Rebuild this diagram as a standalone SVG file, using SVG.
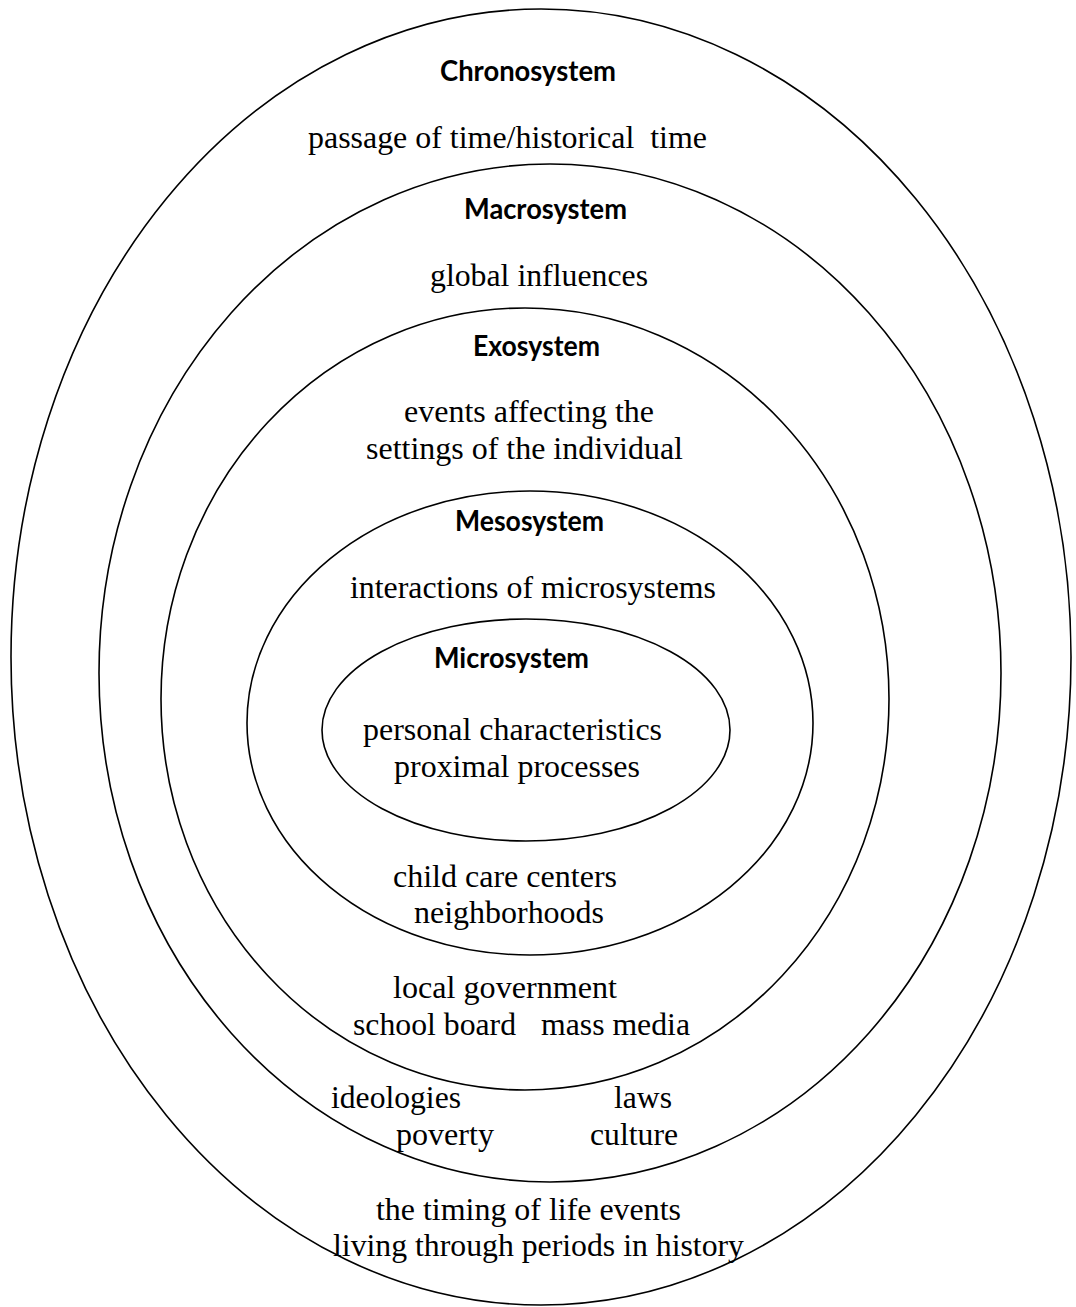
<svg xmlns="http://www.w3.org/2000/svg" width="1076" height="1307" viewBox="0 0 1076 1307">
<style>
.ring{fill:none;stroke:#000;stroke-width:1.6}
.title{font-family:"Lato","Open Sans","DejaVu Sans",sans-serif;font-weight:bold;font-size:29px;fill:#000}
.body{font-family:"Liberation Serif","Times New Roman",serif;font-size:32px;fill:#000}
</style>
<rect width="1076" height="1307" fill="#fff"/>
<g id="chronosystem">
<ellipse class="ring" cx="541" cy="657" rx="530" ry="648"/>
<text class="title" x="440" y="81" textLength="176" lengthAdjust="spacingAndGlyphs">Chronosystem</text>
<text class="body" x="308" y="148" textLength="399" lengthAdjust="spacingAndGlyphs" xml:space="preserve">passage of time/historical  time</text>
<text class="body" x="376" y="1220" textLength="305" lengthAdjust="spacingAndGlyphs">the timing of life events</text>
<text class="body" x="333" y="1256" textLength="411" lengthAdjust="spacingAndGlyphs">living through periods in history</text>
</g>
<g id="macrosystem">
<ellipse class="ring" cx="550" cy="673" rx="451" ry="509"/>
<text class="title" x="464" y="219" textLength="163" lengthAdjust="spacingAndGlyphs">Macrosystem</text>
<text class="body" x="430" y="286" textLength="218" lengthAdjust="spacingAndGlyphs">global influences</text>
<text class="body" x="331" y="1108" textLength="130" lengthAdjust="spacingAndGlyphs">ideologies</text>
<text class="body" x="614" y="1108" textLength="58" lengthAdjust="spacingAndGlyphs">laws</text>
<text class="body" x="396" y="1145" textLength="98" lengthAdjust="spacingAndGlyphs">poverty</text>
<text class="body" x="590" y="1145" textLength="88" lengthAdjust="spacingAndGlyphs">culture</text>
</g>
<g id="exosystem">
<ellipse class="ring" cx="525" cy="699" rx="364" ry="391"/>
<text class="title" x="473" y="356" textLength="127" lengthAdjust="spacingAndGlyphs">Exosystem</text>
<text class="body" x="404" y="422" textLength="250" lengthAdjust="spacingAndGlyphs">events affecting the</text>
<text class="body" x="366" y="459" textLength="317" lengthAdjust="spacingAndGlyphs">settings of the individual</text>
<text class="body" x="393" y="998" textLength="224" lengthAdjust="spacingAndGlyphs">local government</text>
<text class="body" x="353" y="1035" textLength="163" lengthAdjust="spacingAndGlyphs">school board</text>
<text class="body" x="541" y="1035" textLength="149" lengthAdjust="spacingAndGlyphs">mass media</text>
</g>
<g id="mesosystem">
<ellipse class="ring" cx="530" cy="723" rx="283" ry="232"/>
<text class="title" x="455" y="531" textLength="149" lengthAdjust="spacingAndGlyphs">Mesosystem</text>
<text class="body" x="350" y="598" textLength="366" lengthAdjust="spacingAndGlyphs">interactions of microsystems</text>
<text class="body" x="393" y="887" textLength="224" lengthAdjust="spacingAndGlyphs">child care centers</text>
<text class="body" x="414" y="923" textLength="190" lengthAdjust="spacingAndGlyphs">neighborhoods</text>
</g>
<g id="microsystem">
<ellipse class="ring" cx="526" cy="730" rx="204" ry="111"/>
<text class="title" x="434" y="668" textLength="155" lengthAdjust="spacingAndGlyphs">Microsystem</text>
<text class="body" x="363" y="740" textLength="299" lengthAdjust="spacingAndGlyphs">personal characteristics</text>
<text class="body" x="394" y="777" textLength="246" lengthAdjust="spacingAndGlyphs">proximal processes</text>
</g>
</svg>
